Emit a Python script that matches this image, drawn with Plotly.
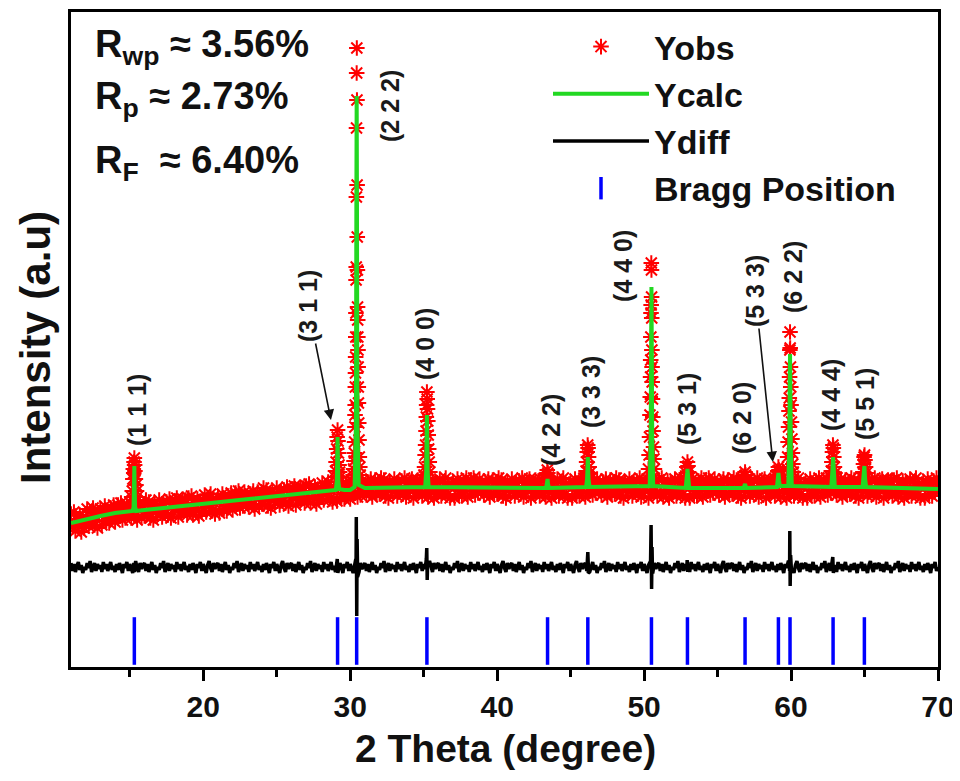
import numpy as np
import plotly.graph_objects as go

# ---------------- data (a.u.) ----------------
# Observed pattern, scan step 0.1 deg from 11.0 to 70.0 (10 values per degree)
obs_grid_y = [
    153,140,155,136,148,143,152,135,150,139,  # 11
    145,158,141,155,148,159,142,151,139,153,  # 12
    158,142,156,161,146,153,144,159,149,162,  # 13
    145,156,162,151,164,147,159,149,163,153,  # 14
    159,149,162,152,165,147,157,164,150,161,  # 15
    151,167,155,165,149,161,147,163,158,153,  # 16
    167,157,150,163,154,165,152,168,149,160,  # 17
    158,166,169,150,162,155,168,157,167,152,  # 18
    169,156,171,152,164,159,168,151,166,155,  # 19
    159,172,155,169,162,173,156,165,153,167,  # 20
    170,154,168,173,158,165,156,171,161,174,  # 21
    157,168,174,163,176,159,171,161,175,165,  # 22
    170,160,173,163,176,158,168,175,161,172,  # 23
    163,179,167,177,161,173,159,175,170,165,  # 24
    179,169,162,175,166,177,164,180,161,172,  # 25
    170,178,181,162,174,167,180,169,179,164,  # 26
    181,168,183,164,176,171,180,163,178,167,  # 27
    171,184,167,181,174,185,168,177,165,179,  # 28
    182,166,180,185,170,177,168,183,173,186,  # 29
    168,179,185,174,187,170,182,172,186,176,  # 30
    182,172,185,175,188,170,180,187,173,184,  # 31
    173,189,177,187,171,183,169,185,180,175,  # 32
    188,178,171,184,175,186,173,189,170,181,  # 33
    177,185,188,169,181,174,187,176,186,171,  # 34
    187,174,189,170,182,177,186,169,184,173,  # 35
    175,188,171,185,178,189,172,181,169,183,  # 36
    185,169,183,188,173,180,171,186,176,189,  # 37
    170,181,187,176,189,172,184,174,188,178,  # 38
    182,172,185,175,188,170,180,187,173,184,  # 39
    173,189,177,187,171,183,169,185,180,175,  # 40
    188,178,171,184,175,186,173,189,170,181,  # 41
    177,185,188,169,181,174,187,176,186,171,  # 42
    187,174,189,170,182,177,186,169,184,173,  # 43
    175,188,171,185,178,189,172,181,169,183,  # 44
    185,169,183,188,173,180,171,186,176,189,  # 45
    170,181,187,176,189,172,184,174,188,178,  # 46
    182,172,185,175,188,170,180,187,173,184,  # 47
    173,189,177,187,171,183,169,185,180,175,  # 48
    188,178,171,184,175,186,173,189,170,181,  # 49
    177,185,188,169,181,174,187,176,186,171,  # 50
    187,174,189,170,182,177,186,169,184,173,  # 51
    175,188,171,185,178,189,172,181,169,183,  # 52
    185,169,183,188,173,180,171,186,176,189,  # 53
    170,181,187,176,189,172,184,174,188,178,  # 54
    182,172,185,175,188,170,180,187,173,184,  # 55
    173,189,177,187,171,183,169,185,180,175,  # 56
    188,178,171,184,175,186,173,189,170,181,  # 57
    177,185,188,169,181,174,187,176,186,171,  # 58
    187,174,189,170,182,177,186,169,184,173,  # 59
    175,188,171,185,178,189,172,181,169,183,  # 60
    185,169,183,188,173,180,171,186,176,189,  # 61
    170,181,187,176,189,172,184,174,188,178,  # 62
    182,172,185,175,188,170,180,187,173,184,  # 63
    173,189,177,187,171,183,169,185,180,175,  # 64
    188,178,171,184,175,186,173,189,170,181,  # 65
    177,185,188,169,181,174,187,176,186,171,  # 66
    187,174,189,170,182,177,186,169,184,173,  # 67
    175,188,171,185,178,189,172,181,169,183,  # 68
    185,169,183,188,173,180,171,186,176,189,  # 69
    180,                                      # 70.0
]
obs_grid_x = np.round(np.linspace(11.0, 70.0, 591), 2)

# Observed points on the reflections
obs_peak_x = [
    15.13,15.17,15.21,15.24,15.27,15.29,15.31,15.33,15.35,15.38,15.42,15.46,15.50,
    28.96,29.00,29.04,29.08,29.11,29.14,29.17,29.20,29.24,29.28,29.32,
    30.20,30.23,30.26,30.28,30.30,30.32,30.33,30.34,30.35,30.36,30.37,30.38,30.39,30.40,
    30.41,30.42,30.43,30.44,30.45,30.46,30.47,30.48,30.49,30.50,30.51,30.52,30.53,30.54,
    30.55,30.56,30.58,30.60,30.62,30.65,30.68,
    35.02,35.06,35.10,35.13,35.16,35.18,35.20,35.22,35.24,35.26,35.28,35.31,35.34,35.38,35.42,
    43.33,43.37,43.41,43.45,43.49,43.53,
    46.01,46.05,46.09,46.13,46.16,46.19,46.22,46.26,46.30,46.34,
    50.30,50.34,50.37,50.40,50.42,50.44,50.45,50.46,50.47,50.48,50.49,50.50,50.51,50.52,
    50.53,50.54,50.55,50.57,50.59,50.61,50.64,50.67,50.70,
    52.83,52.87,52.91,52.95,52.99,53.03,53.07,
    56.79,56.83,56.87,56.91,56.95,
    59.06,59.10,59.14,59.18,59.22,
    59.73,59.77,59.80,59.83,59.86,59.88,59.90,59.92,59.93,59.94,59.96,59.98,60.00,60.03,
    60.06,60.09,60.12,60.15,
    62.70,62.74,62.78,62.82,62.85,62.88,62.91,62.95,62.99,63.03,
    64.85,64.89,64.93,64.97,65.00,65.03,65.07,65.11,65.15,
]
obs_peak_y = [
    170,176,188,198,194,205,209,202,196,188,182,176,170,
    190,196,205,218,230,237,226,214,202,195,190,
    192,198,206,214,225,240,252,262,280,294,310,330,354,387,
    400,470,539,594,619,567,482,430,397,360,347,330,317,300,
    280,264,244,227,210,200,192,
    192,200,212,222,236,250,262,275,268,258,246,232,218,205,195,
    188,192,197,194,190,186,
    190,196,205,215,222,219,210,200,194,189,
    198,212,230,252,270,290,307,330,354,362,404,397,370,349,
    317,300,285,268,250,236,220,208,198,
    188,194,200,205,201,195,189,
    187,191,195,192,188,
    190,196,200,197,192,
    198,210,225,240,256,269,290,317,335,319,300,280,262,245,
    228,214,203,195,
    190,196,205,215,222,219,210,200,194,189,
    189,195,203,210,212,207,200,194,189,
]

# Calculated profile (Rietveld fit)
calc_x = [
    11.0,12.0,13.0,14.0,15.0,15.19,15.26,15.29,15.31,15.33,15.36,15.43,
    16.0,18.0,20.0,22.0,24.0,26.0,28.0,29.0,29.02,29.09,29.12,29.14,29.16,29.19,29.26,
    29.6,30.0,30.3,30.39,30.42,30.44,30.46,30.49,30.58,31.0,
    35.1,35.17,35.2,35.22,35.24,35.27,35.34,
    43.33,43.40,43.43,43.46,43.53,
    46.05,46.12,46.15,46.17,46.19,46.22,46.29,
    50.38,50.45,50.48,50.50,50.52,50.55,50.62,
    52.83,52.90,52.93,52.95,52.97,53.00,53.07,
    56.77,56.84,56.87,56.90,56.97,
    59.04,59.10,59.12,59.14,59.16,59.19,59.24,
    59.81,59.88,59.91,59.93,59.95,59.98,60.05,
    62.74,62.81,62.84,62.86,62.88,62.91,62.98,
    64.87,64.94,64.97,64.99,65.01,65.04,65.11,
    70.0,
]
calc_y = [
    144,148,151,154,155,156,160,180,201,180,160,156,
    157,160,163,166,169,172,175,176,177,186,212,230,212,186,178,
    177,177,180,240,470,571,470,240,182,179,
    180,195,230,252,230,195,180,
    179,183,188,183,179,
    180,188,200,210,200,188,180,
    181,230,330,380,330,230,181,
    179,186,194,198,194,186,179,
    179,181,183,181,179,
    180,186,191,194,191,186,181,
    181,220,285,313,285,220,181,
    180,190,202,210,202,190,180,
    180,188,196,201,196,188,180,
    178,
]

# Difference curve (Yobs - Ycalc, offset), same 0.1 deg scan
diff_grid_y = [
    104,96,103,95,101,105,97,102,94,100,  97,104,99,106,95,101,104,96,103,98,
    102,95,105,98,103,96,100,105,97,101,  95,103,97,104,100,94,103,99,105,96,
    103,98,94,102,106,99,95,104,98,102,   104,96,103,95,101,105,97,102,94,100,
    97,104,99,106,95,101,104,96,103,98,   102,95,105,98,103,96,100,105,97,101,
    95,103,97,104,100,94,103,99,105,96,   103,98,94,102,106,99,95,104,98,102,
    104,96,103,95,101,105,97,102,94,100,  97,104,99,106,95,101,104,96,103,98,
    102,95,105,98,103,96,100,105,97,101,  95,103,97,104,100,94,103,99,105,96,
    103,98,94,102,106,99,95,104,98,102,   104,96,103,95,101,105,97,102,94,100,
    97,104,99,106,95,101,104,96,103,98,   102,95,105,98,103,96,100,105,97,101,
    95,103,97,104,100,94,103,99,105,96,   103,98,94,102,106,99,95,104,98,102,
    104,96,103,95,101,105,97,102,94,100,  97,104,99,106,95,101,104,96,103,98,
    102,95,105,98,103,96,100,105,97,101,  95,103,97,104,100,94,103,99,105,96,
    103,98,94,102,106,99,95,104,98,102,   104,96,103,95,101,105,97,102,94,100,
    97,104,99,106,95,101,104,96,103,98,   102,95,105,98,103,96,100,105,97,101,
    95,103,97,104,100,94,103,99,105,96,   103,98,94,102,106,99,95,104,98,102,
    104,96,103,95,101,105,97,102,94,100,  97,104,99,106,95,101,104,96,103,98,
    102,95,105,98,103,96,100,105,97,101,  95,103,97,104,100,94,103,99,105,96,
    103,98,94,102,106,99,95,104,98,102,   104,96,103,95,101,105,97,102,94,100,
    97,104,99,106,95,101,104,96,103,98,   102,95,105,98,103,96,100,105,97,101,
    95,103,97,104,100,94,103,99,105,96,   103,98,94,102,106,99,95,104,98,102,
    104,96,103,95,101,105,97,102,94,100,  97,104,99,106,95,101,104,96,103,98,
    102,95,105,98,103,96,100,105,97,101,  95,103,97,104,100,94,103,99,105,96,
    103,98,94,102,106,99,95,104,98,102,   104,96,103,95,101,105,97,102,94,100,
    97,104,99,106,95,101,104,96,103,98,   102,95,105,98,103,96,100,105,97,101,
    95,103,97,104,100,94,103,99,105,96,   103,98,94,102,106,99,95,104,98,102,
    104,96,103,95,101,105,97,102,94,100,  97,104,99,106,95,101,104,96,103,98,
    102,95,105,98,103,96,100,105,97,101,  95,103,97,104,100,94,103,99,105,96,
    103,98,94,102,106,99,95,104,98,102,   104,96,103,95,101,105,97,102,94,100,
    97,104,99,106,95,101,104,96,103,98,   102,95,105,98,103,96,100,105,97,101,
    95,103,97,104,100,94,103,99,105,96,
    100,
]
diff_peak_x = [15.28,15.31,15.34, 29.12,29.16, 30.38,30.415,30.43,30.445,30.47,30.50,
               35.18,35.21,35.24,35.27, 46.14,46.17,46.20, 50.44,50.475,50.51,50.54,50.57,
               52.93,52.97, 59.88,59.915,59.94,59.97,60.03, 62.84,62.88]
diff_peak_y = [104,95,103, 108,94, 108,150,60,51,128,90,
               108,119,87,104, 104,115,94, 106,142,78,120,95,
               107,95, 105,136,81,112,96, 110,94]

# Bragg reflections
bragg_x = [15.31, 29.14, 30.44, 35.22, 43.43, 46.17, 50.50, 52.95, 56.87, 59.14, 59.93, 62.86, 64.99]
bragg_level = [26] * len(bragg_x)
hkl = ["(1 1 1)", "(3 1 1)", "(2 2 2)", "(4 0 0)", "(4 2 2)", "(3 3 3)", "(4 4 0)",
       "(5 3 1)", "(6 2 0)", "(5 3 3)", "(6 2 2)", "(4 4 4)", "(5 5 1)"]
r_factors = [("wp", "3.56%"), ("p", "2.73%"), ("F", "6.40%")]

assert len(obs_grid_y) == len(obs_grid_x) == len(diff_grid_y)
assert len(obs_peak_x) == len(obs_peak_y)
assert len(calc_x) == len(calc_y)
assert len(diff_peak_x) == len(diff_peak_y)

# ---------------- assemble ----------------
ox = np.concatenate([obs_grid_x, obs_peak_x])
oy = np.concatenate([obs_grid_y, obs_peak_y])
dx = np.concatenate([obs_grid_x, diff_peak_x])
dy = np.concatenate([diff_grid_y, diff_peak_y])
order = np.argsort(dx, kind="stable")
dx, dy = dx[order], dy[order]

FONT = "Liberation Sans, Arial, sans-serif"
OFF = 8                      # page body margin of the html page
W, H = 960 - OFF, 781 - OFF
ML, MR, MT, MB = 71 - OFF, 22, 12 - OFF, 114
PW, PH = W - ML - MR, H - MT - MB


def px_to_paper(px, py):
    """page pixel -> paper coordinates"""
    return (px - OFF - ML) / PW, (H - MB - (py - OFF)) / PH


fig = go.Figure()
fig.add_trace(go.Scatter(
    x=ox, y=oy, mode="markers", name="Yobs",
    marker=dict(symbol="asterisk-open", size=13, color="#ff0000",
                line=dict(color="#ff0000", width=2)),
))
fig.add_trace(go.Scatter(
    x=calc_x, y=calc_y, mode="lines", name="Ycalc",
    line=dict(color="#22d822", width=4),
))
fig.add_trace(go.Scatter(
    x=dx, y=dy, mode="lines", name="Ydiff",
    line=dict(color="#000000", width=3.5),
))
fig.add_trace(go.Scatter(
    x=bragg_x, y=bragg_level, mode="markers", name="Bragg Position",
    marker=dict(symbol="line-ns-open", size=34, color="#0000ff",
                line=dict(color="#0000ff", width=3.5)),
))

# peak labels (layout positions); two of them point to their peak with an arrow
label_pos = [(15.49, 257), (27.13, 361), (32.71, 561), (35.09, 323), (43.66, 237),
             (46.39, 275), (48.56, 401), (52.92, 258), (56.66, 249), (57.55, 376),
             (60.13, 390), (62.72, 272), (65.03, 263)]
arrow_tips = {"(3 1 1)": (28.69, 247), "(5 3 3)": (58.76, 205)}
label_font = dict(family=FONT, size=25, color="#1a1a1a", weight="bold")
for txt, (lx, ly) in zip(hkl, label_pos):
    if txt in arrow_tips:
        tx, ty = arrow_tips[txt]
        fig.add_annotation(x=tx, y=ty, ax=lx, ay=ly, axref="x", ayref="y",
                           text=txt, textangle=-90, font=label_font,
                           showarrow=True, arrowhead=2, arrowsize=1.3,
                           arrowwidth=1.6, arrowcolor="#111111", standoff=0)
    else:
        fig.add_annotation(x=lx, y=ly, text=txt, showarrow=False, textangle=-90,
                           font=label_font, xanchor="center", yanchor="middle")

# R factors
r_rows_px = [47, 99, 163]
for (sub, val), ypx in zip(r_factors, r_rows_px):
    _, yy = px_to_paper(0, ypx)
    gap = "  " if sub == "F" else " "
    fig.add_annotation(xref="paper", yref="paper", x=px_to_paper(93, 0)[0], y=yy,
                       xanchor="left", yanchor="middle", showarrow=False,
                       text=f"R<sub>{sub}</sub>{gap}≈ {val}",
                       font=dict(family=FONT, size=38, color="#111111", weight="bold"))

# axis titles
xt = px_to_paper(505, 748)
fig.add_annotation(xref="paper", yref="paper", x=xt[0], y=xt[1], xanchor="center",
                   yanchor="middle", showarrow=False, text="2 Theta (degree)",
                   font=dict(family=FONT, size=39, color="#111111", weight="bold"))
yt = px_to_paper(36, 348)
fig.add_annotation(xref="paper", yref="paper", x=yt[0], y=yt[1], xanchor="center",
                   yanchor="middle", showarrow=False, text="Intensity (a.u)", textangle=-90,
                   font=dict(family=FONT, size=42, color="#111111", weight="bold"))

lg = px_to_paper(548, 18)
fig.update_layout(
    width=W, height=H,
    margin=dict(l=ML, r=MR, t=MT, b=MB),
    plot_bgcolor="white", paper_bgcolor="white",
    font=dict(family=FONT, color="#000000"),
    showlegend=True,
    legend=dict(x=lg[0], y=lg[1], xanchor="left", yanchor="top",
                bgcolor="rgba(0,0,0,0)", itemwidth=96, tracegroupgap=0,
                font=dict(family=FONT, size=34, color="#111111", weight="bold")),
    xaxis=dict(range=[11, 70], showgrid=False, zeroline=False, automargin=False,
               showline=True, linewidth=2.5, linecolor="#000000", mirror=True,
               ticks="outside", ticklen=11, tickwidth=2.5, tickcolor="#000000",
               tick0=0, dtick=10,
               minor=dict(ticks="outside", ticklen=7, tickwidth=2.5, dtick=5, tick0=0,
                          tickcolor="#000000", showgrid=False),
               tickfont=dict(family=FONT, size=30, color="#111111", weight="bold")),
    yaxis=dict(range=[0, 655], showgrid=False, zeroline=False, automargin=False,
               showline=True, linewidth=2.5, linecolor="#000000", mirror=True,
               showticklabels=False, ticks=""),
)

fig.write_html("out.html")
